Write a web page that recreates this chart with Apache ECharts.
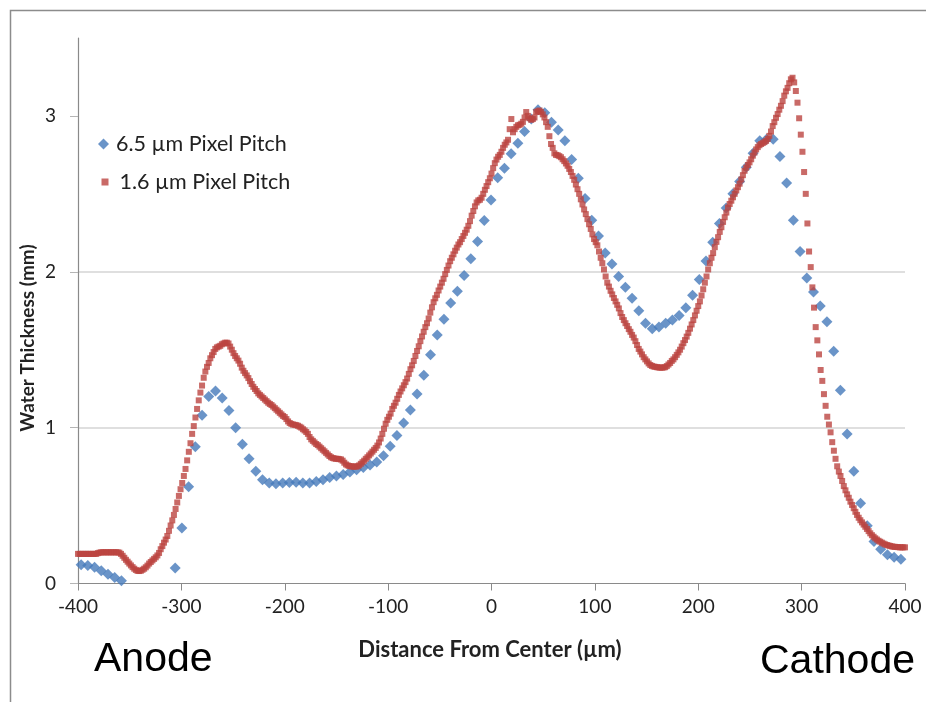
<!DOCTYPE html>
<html>
<head>
<meta charset="utf-8">
<script src="https://cdn.jsdelivr.net/npm/echarts@6/dist/echarts.min.js"></script>
<style>
  html, body { margin: 0; padding: 0; background: #ffffff; }
  #chart { width: 926px; height: 702px; }
</style>
</head>
<body>
<div id="chart"></div>
<script>
// Water thickness profiles across the cell, two detector pixel pitches.
const seriesNames = ['6.5 µm Pixel Pitch', '1.6 µm Pixel Pitch'];

// 6.5 µm pitch: samples every 6.5 µm starting at -397 µm (null = below axis, not shown)
const coarseStart = -397;
const coarseStep = 6.5;
const coarseThickness = [
  0.12, 0.115, 0.105, 0.082, 0.06, 0.038, 0.018,
  null, null, null, null, null, null, null,
  0.10, 0.356, 0.62, 0.878, 1.08, 1.20, 1.235, 1.19, 1.11, 1.00,
  0.893, 0.80, 0.72, 0.665, 0.645, 0.64, 0.645, 0.648, 0.65, 0.645,
  0.645, 0.655, 0.665, 0.68, 0.69, 0.70, 0.715, 0.73, 0.745, 0.76,
  0.78, 0.82, 0.88, 0.95, 1.03, 1.113, 1.216, 1.336, 1.467, 1.595,
  1.696, 1.80, 1.875, 1.976, 2.083, 2.194, 2.329, 2.461, 2.603, 2.665,
  2.757, 2.825, 2.90, 2.98, 3.04, 3.02, 2.96, 2.91, 2.84, 2.72,
  2.60, 2.47, 2.33, 2.23, 2.12, 2.05, 1.97, 1.90, 1.83, 1.75,
  1.67, 1.635, 1.645, 1.67, 1.69, 1.72, 1.77, 1.85, 1.95, 2.07,
  2.19, 2.31, 2.41, 2.50, 2.58, 2.67, 2.76, 2.84, 2.85, 2.85,
  2.74, 2.57, 2.33, 2.13, 1.96, 1.87, 1.78, 1.68, 1.49, 1.24,
  0.96, 0.72, 0.515, 0.37, 0.27, 0.22, 0.185, 0.168, 0.155
];

// 1.6 µm pitch: samples every 1.6 µm from -400 to 400 µm
const fineStart = -400;
const fineStep = 1.6;
const fineThickness = [
  0.19, 0.19, 0.19, 0.19, 0.19, 0.19, 0.19, 0.19, 0.19, 0.19,
  0.19, 0.19, 0.195, 0.198, 0.2, 0.2, 0.2, 0.2, 0.2, 0.2,
  0.2, 0.2, 0.2, 0.2, 0.2, 0.198, 0.19, 0.178, 0.165, 0.152,
  0.14, 0.128, 0.116, 0.105, 0.095, 0.087, 0.081, 0.08, 0.082, 0.088,
  0.095, 0.104, 0.115, 0.128, 0.138, 0.148, 0.158, 0.168, 0.18, 0.196,
  0.22, 0.24, 0.262, 0.282, 0.305, 0.338, 0.372, 0.405, 0.44, 0.478,
  0.52, 0.562, 0.605, 0.645, 0.69, 0.735, 0.79, 0.845, 0.9, 0.96,
  1.01, 1.065, 1.12, 1.175, 1.225, 1.27, 1.32, 1.36, 1.39, 1.415,
  1.445, 1.465, 1.485, 1.505, 1.515, 1.52, 1.525, 1.535, 1.54, 1.545,
  1.545, 1.54, 1.52, 1.5, 1.478, 1.46, 1.445, 1.43, 1.41, 1.385,
  1.365, 1.35, 1.335, 1.318, 1.298, 1.28, 1.262, 1.248, 1.235, 1.22,
  1.21, 1.2, 1.19, 1.18, 1.17, 1.16, 1.152, 1.145, 1.135, 1.125,
  1.115, 1.105, 1.095, 1.085, 1.075, 1.068, 1.055, 1.04, 1.03, 1.024,
  1.02, 1.018, 1.016, 1.012, 1.006, 1.0, 0.99, 0.982, 0.972, 0.96,
  0.94, 0.925, 0.915, 0.905, 0.895, 0.888, 0.878, 0.868, 0.858, 0.848,
  0.838, 0.828, 0.818, 0.81, 0.805, 0.802, 0.8, 0.8, 0.798, 0.796,
  0.788, 0.775, 0.764, 0.758, 0.754, 0.752, 0.75, 0.75, 0.75, 0.752,
  0.758, 0.768, 0.778, 0.788, 0.8, 0.81, 0.822, 0.834, 0.846, 0.858,
  0.87, 0.885, 0.905, 0.93, 0.96, 0.993, 1.025, 1.05, 1.07, 1.09,
  1.12, 1.14, 1.16, 1.185, 1.21, 1.232, 1.252, 1.272, 1.292, 1.315,
  1.345, 1.375, 1.4, 1.428, 1.46, 1.492, 1.522, 1.555, 1.585, 1.615,
  1.645, 1.67, 1.7, 1.738, 1.772, 1.805, 1.83, 1.852, 1.88, 1.905,
  1.93, 1.955, 1.985, 2.012, 2.04, 2.068, 2.09, 2.112, 2.135, 2.155,
  2.175, 2.19, 2.21, 2.23, 2.25, 2.27, 2.295, 2.325, 2.36, 2.39,
  2.42, 2.445, 2.458, 2.462, 2.475, 2.5, 2.526, 2.55, 2.575, 2.6,
  2.63, 2.665, 2.697, 2.72, 2.738, 2.75, 2.77, 2.795, 2.815, 2.83,
  2.847, 2.915, 2.98, 2.895, 2.915, 2.93, 2.94, 2.943, 2.95, 2.962,
  2.99, 3.025, 3.0, 2.985, 2.975, 2.98, 2.99, 3.025, 3.03, 3.035,
  3.025, 3.01, 2.99, 2.96, 2.93, 2.87, 2.82, 2.795, 2.76, 2.75,
  2.748, 2.742, 2.735, 2.722, 2.71, 2.695, 2.68, 2.66, 2.64, 2.615,
  2.59, 2.56, 2.53, 2.5, 2.465, 2.432, 2.4, 2.37, 2.338, 2.305,
  2.275, 2.24, 2.21, 2.19, 2.17, 2.13, 2.09, 2.055, 2.015, 1.97,
  1.93, 1.905, 1.878, 1.855, 1.832, 1.81, 1.788, 1.765, 1.735, 1.71,
  1.69, 1.67, 1.652, 1.632, 1.615, 1.595, 1.578, 1.555, 1.53, 1.505,
  1.488, 1.47, 1.452, 1.438, 1.425, 1.412, 1.402, 1.396, 1.392, 1.39,
  1.388, 1.386, 1.385, 1.385, 1.386, 1.388, 1.395, 1.405, 1.415, 1.428,
  1.438, 1.452, 1.467, 1.483, 1.5, 1.52, 1.542, 1.562, 1.584, 1.608,
  1.635, 1.662, 1.69, 1.72, 1.75, 1.78, 1.81, 1.848, 1.888, 1.93,
  1.97, 2.015, 2.055, 2.09, 2.12, 2.158, 2.192, 2.222, 2.256, 2.286,
  2.32, 2.35, 2.38, 2.412, 2.435, 2.456, 2.478, 2.5, 2.522, 2.543,
  2.565, 2.592, 2.62, 2.648, 2.668, 2.685, 2.702, 2.722, 2.745, 2.765,
  2.785, 2.8, 2.812, 2.82, 2.826, 2.832, 2.84, 2.852, 2.872, 2.9,
  2.935, 2.96, 2.988, 3.012, 3.04, 3.065, 3.095, 3.13, 3.158, 3.18,
  3.21, 3.235, 3.245, 3.215, 3.16, 3.085, 2.985, 2.88, 2.77, 2.64,
  2.5, 2.31, 2.13, 2.03, 1.9, 1.77, 1.645, 1.56, 1.47, 1.37,
  1.3, 1.215, 1.14, 1.07, 1.02, 0.97, 0.907, 0.852, 0.8, 0.752,
  0.718, 0.69, 0.658, 0.625, 0.598, 0.572, 0.55, 0.525, 0.504, 0.483,
  0.46, 0.44, 0.422, 0.406, 0.392, 0.378, 0.364, 0.35, 0.336, 0.322,
  0.31, 0.3, 0.29, 0.282, 0.274, 0.268, 0.262, 0.256, 0.251, 0.247,
  0.244, 0.241, 0.238, 0.236, 0.235, 0.234, 0.233, 0.232, 0.232, 0.232,
  0.232
];

const yTickValues = [0, 1, 2, 3];
const axisTitles = ['Distance From Center (µm)', 'Water Thickness (mm)'];
const sideLabels = ['Anode', 'Cathode'];

// Pair each thickness with its position along the cell
function toPoints(values, start, step) {
  const pts = [];
  values.forEach(function (v, i) {
    if (v !== null) pts.push([Math.round((start + i * step) * 10) / 10, v]);
  });
  return pts;
}
const coarsePoints = toPoints(coarseThickness, coarseStart, coarseStep);
const finePoints = toPoints(fineThickness, fineStart, fineStep);

const textColor = '#222222';
const uiFont = 'Lato';

const chart = echarts.init(document.getElementById('chart'), null, { renderer: 'canvas' });
chart.setOption({
  animation: false,
  backgroundColor: '#ffffff',
  grid: { left: 78, top: 38, width: 827, height: 545.5 },
  xAxis: {
    type: 'value', min: -400, max: 400, interval: 100,
    axisLine: { show: true, onZero: false, lineStyle: { color: '#8a8a8a', width: 1.2 } },
    axisTick: { show: true, length: 7, lineStyle: { color: '#8a8a8a' } },
    splitLine: { show: false },
    axisLabel: { margin: 14, fontFamily: uiFont, fontSize: 19, color: textColor }
  },
  yAxis: {
    type: 'value', min: 0, max: 3.5, interval: 1,
    axisLine: { show: true, onZero: false, lineStyle: { color: '#8a8a8a', width: 1.2 } },
    axisTick: { show: true, length: 8, customValues: yTickValues, lineStyle: { color: '#b5b5b5' } },
    axisLabel: { customValues: yTickValues, margin: 22, fontFamily: uiFont, fontSize: 19, color: textColor },
    splitLine: { show: true, showMinLine: false, showMaxLine: false, lineStyle: { color: '#d4d4d4', width: 1.5 } }
  },
  legend: [
    {
      data: [{ name: seriesNames[0], icon: 'diamond' }],
      left: 98, top: 132, padding: 0, itemWidth: 11, itemHeight: 11, selectedMode: false,
      textStyle: { fontFamily: uiFont, fontSize: 21.5, color: textColor, lineHeight: 24, padding: [0, 0, 0, 2] }
    },
    {
      data: [{ name: seriesNames[1], icon: 'rect' }],
      left: 101.5, top: 170, padding: 0, itemWidth: 7, itemHeight: 7, selectedMode: false,
      textStyle: { fontFamily: uiFont, fontSize: 21.5, color: textColor, lineHeight: 24, padding: [0, 0, 0, 6] }
    }
  ],
  series: [
    {
      name: seriesNames[0], type: 'scatter', data: coarsePoints,
      symbol: 'diamond', symbolSize: 11, z: 2,
      itemStyle: { color: '#4579BA' }
    },
    {
      name: seriesNames[1], type: 'scatter', data: finePoints,
      symbol: 'rect', symbolSize: 6, z: 3,
      itemStyle: { color: '#BB4541' }
    }
  ],
  graphic: [
    {
      type: 'rect', silent: true, z: -10,
      shape: { x: 10.5, y: 10.5, width: 1000, height: 1000 },
      style: { fill: null, stroke: '#8c8c8c', lineWidth: 1.5 }
    },
    {
      type: 'text', x: 28, y: 338, rotation: Math.PI / 2, silent: true,
      style: { text: axisTitles[1], font: 'bold 19px Lato', fill: textColor, align: 'center', verticalAlign: 'middle' }
    },
    {
      type: 'text', x: 490, y: 650, silent: true,
      style: { text: axisTitles[0], font: 'bold 22px Lato', fill: textColor, align: 'center', verticalAlign: 'middle' }
    },
    {
      type: 'text', x: 94, y: 660, silent: true,
      style: { text: sideLabels[0], font: '41px "Liberation Sans"', fill: '#000000', align: 'left', verticalAlign: 'middle' }
    },
    {
      type: 'text', x: 760, y: 662, silent: true,
      style: { text: sideLabels[1], font: '41px "Liberation Sans"', fill: '#000000', align: 'left', verticalAlign: 'middle' }
    }
  ]
});
</script>
</body>
</html>
